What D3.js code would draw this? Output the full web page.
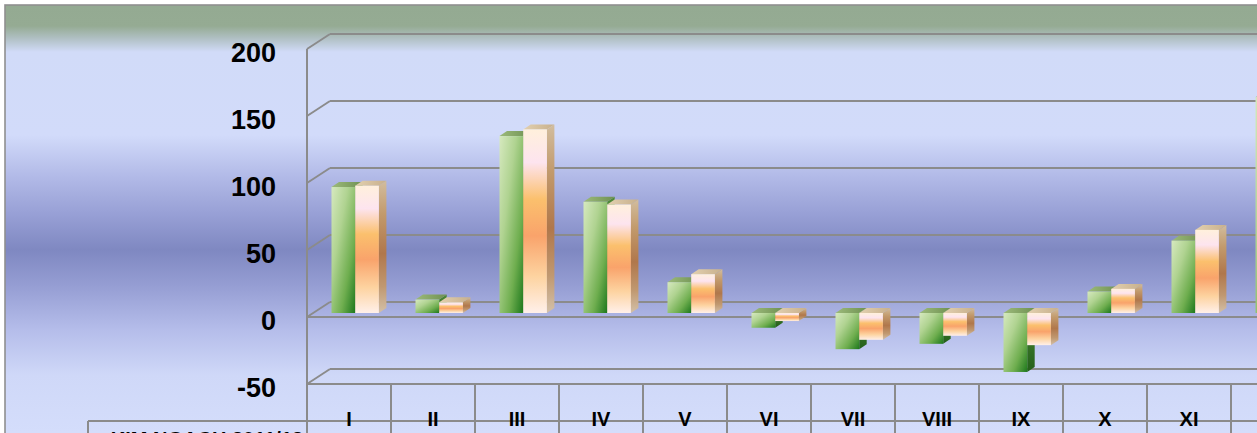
<!DOCTYPE html>
<html>
<head>
<meta charset="utf-8">
<script src="https://cdn.jsdelivr.net/npm/d3@7/dist/d3.min.js"></script>
<style>
  html, body { margin: 0; padding: 0; background: #ffffff; overflow: hidden; }
  svg { display: block; }
</style>
</head>
<body>
<svg id="chart" width="1257" height="433"></svg>
<script>
// Months (Roman numerals) and the two series
const categories = ["I", "II", "III", "IV", "V", "VI", "VII", "VIII", "IX", "X", "XI", "XII"];
const seriesGreen = [94, 10, 132, 83, 23, -11, -27, -23, -44, 16, 54, 161];
const seriesOrange = [95, 8, 137, 81, 29, -6, -20, -17, -24, 18, 62, 150];
const yTicks = [-50, 0, 50, 100, 150, 200];
const seriesLabel = "KIM NGẠCH 2011/12";

const W = 1257, H = 433;
const svg = d3.select("#chart");
const defs = svg.append("defs");

// --- oblique 3D geometry ---
const depthX = 23, depthY = 15;          // side wall depth (front -> back)
const barDX = 7.5, barDY = 5;            // bar depth
const barPlaneY = 11;                    // bar front plane below back wall

// back wall value scale
const yBack = d3.scaleLinear().domain([-50, 200]).range([369, 34]);
const yFront = v => yBack(v) + depthY;
const yBar = v => yBack(v) + barPlaneY;

// category bands on the front plane
const frontLeft = 307, bandW = 84;
const x = d3.scaleBand().domain(categories)
  .range([frontLeft, frontLeft + bandW * categories.length])
  .paddingInner(0).paddingOuter(0);
const barOffset = 24.5, barW = 23.7;

// --- background gradient (green band at top, blue bands below) ---
const bg = defs.append("linearGradient").attr("id", "bg")
  .attr("gradientUnits", "userSpaceOnUse")
  .attr("x1", 0).attr("y1", 5).attr("x2", 0).attr("y2", H);
[[5, "#94aa92"], [26, "#95ab93"], [38, "#afbfc2"], [52, "#d1dbf8"], [135, "#d2dbfa"],
 [175, "#b3bbe8"], [215, "#979fd5"], [250, "#7f88c1"], [285, "#959dd3"], [330, "#b5bdea"],
 [375, "#cfd8f8"], [433, "#d4ddfb"]].forEach(([yy, c]) => {
  bg.append("stop").attr("offset", (yy - 5) / (H - 5)).attr("stop-color", c);
});

svg.append("rect").attr("x", 5).attr("y", 5).attr("width", W).attr("height", H)
  .attr("fill", "url(#bg)").attr("stroke", "#8f8f8f").attr("stroke-width", 1.6);

// --- bar gradients ---
function grad(id, x2, y2, stops) {
  const g = defs.append("linearGradient").attr("id", id)
    .attr("x1", 0).attr("y1", 0).attr("x2", x2).attr("y2", y2);
  stops.forEach(([o, c]) => g.append("stop").attr("offset", o).attr("stop-color", c));
}
grad("gFront", 1, 1, [[0, "#d6e9bf"], [0.35, "#b0d391"], [0.7, "#6fae4f"], [1, "#1d781c"]]);
grad("gTop", 1, 0, [[0, "#9cba7a"], [1, "#6f9152"]]);
grad("gSide", 0, 1, [[0, "#4f8a38"], [1, "#24601a"]]);
grad("oFront", 0, 1, [[0, "#fff0dc"], [0.18, "#fde4ef"], [0.38, "#fbc06d"], [0.58, "#f9a36b"],
                      [0.8, "#fdd3a0"], [1, "#fff0ea"]]);
grad("oTop", 1, 0, [[0, "#e2d0b0"], [1, "#c8b08c"]]);
grad("oSide", 0, 1, [[0, "#d2bd9e"], [0.25, "#c29a6c"], [0.55, "#b0774b"], [0.8, "#c09870"], [1, "#d3c0a8"]]);

// --- walls and gridlines ---
const gridColor = "#8b8b8b";
const grid = svg.append("g").attr("stroke", gridColor).attr("stroke-width", 2).attr("fill", "none");

// back wall horizontal gridlines
grid.selectAll("line.back").data(yTicks).join("line").attr("class", "back")
  .attr("x1", frontLeft + depthX).attr("x2", W + 10)
  .attr("y1", d => yBack(d)).attr("y2", d => yBack(d));
// side wall diagonals
grid.selectAll("line.side").data(yTicks).join("line").attr("class", "side")
  .attr("x1", frontLeft).attr("y1", d => yFront(d))
  .attr("x2", frontLeft + depthX).attr("y2", d => yBack(d));
// side wall front edge (continues down as the table's left rule)
grid.append("line")
  .attr("x1", frontLeft).attr("x2", frontLeft)
  .attr("y1", yFront(200)).attr("y2", H + 5);
// front edge at zero and floor front edge
grid.selectAll("line.front").data([0, -50]).join("line").attr("class", "front")
  .attr("x1", frontLeft).attr("x2", W + 10)
  .attr("y1", d => yFront(d)).attr("y2", d => yFront(d));

// --- bars ---
const bars = svg.append("g");
const rows = categories.map((c, i) => ({ c, g: seriesGreen[i], o: seriesOrange[i] }));

function drawBar(g, x0, v, fills) {
  const yTop = yBar(Math.max(v, 0));
  const yBot = yBar(Math.min(v, 0));
  // right side face
  g.append("path").attr("fill", `url(#${fills[2]})`)
    .attr("d", `M${x0 + barW},${yTop} L${x0 + barW + barDX},${yTop - barDY} L${x0 + barW + barDX},${yBot - barDY} L${x0 + barW},${yBot} Z`);
  // top face
  g.append("path").attr("fill", `url(#${fills[1]})`)
    .attr("d", `M${x0},${yTop} L${x0 + barDX},${yTop - barDY} L${x0 + barW + barDX},${yTop - barDY} L${x0 + barW},${yTop} Z`);
  // front face
  g.append("rect").attr("x", x0).attr("y", yTop).attr("width", barW)
    .attr("height", Math.max(yBot - yTop, 0.5)).attr("fill", `url(#${fills[0]})`);
}

rows.forEach(r => {
  const g = bars.append("g");
  const x0 = x(r.c) + barOffset;
  drawBar(g, x0, r.g, ["gFront", "gTop", "gSide"]);
  drawBar(g, x0 + barW, r.o, ["oFront", "oTop", "oSide"]);
});

// --- value axis labels ---
const labelScale = d3.scaleLinear().domain(yBack.domain()).range(yBack.range().map(v => v + depthY + 4));
const yAxis = svg.append("g").attr("transform", "translate(276,0)")
  .call(d3.axisLeft(labelScale).tickValues(yTicks).tickSize(0).tickPadding(0).tickFormat(d => String(d)));
yAxis.select(".domain").remove();
yAxis.selectAll("text")
  .attr("font-family", "'Liberation Sans', Arial, sans-serif")
  .attr("font-weight", "bold").attr("font-size", 27).attr("fill", "#000");

// --- data table (category row) ---
const tableTop = yFront(-50);
const rowLine = 421;
const table = svg.append("g").attr("stroke", gridColor).attr("stroke-width", 2);
const bounds = categories.map(c => x(c)).concat([x.range()[1]]);
table.selectAll("line.col").data(bounds.slice(1)).join("line").attr("class", "col")
  .attr("x1", d => d).attr("x2", d => d).attr("y1", tableTop).attr("y2", H + 5);

const xAxis = svg.append("g").attr("transform", `translate(0,${rowLine - 2})`)
  .call(d3.axisBottom(x).tickSize(0).tickPadding(0));
xAxis.select(".domain").remove();
xAxis.selectAll("text")
  .attr("y", 0).attr("dy", "0.36em")
  .attr("font-family", "'Liberation Sans', Arial, sans-serif")
  .attr("font-weight", "bold").attr("font-size", 20).attr("fill", "#000");

// series row label (partly below the visible area)
svg.append("text").attr("x", 207).attr("y", 446).attr("text-anchor", "middle")
  .attr("font-family", "'Liberation Sans', Arial, sans-serif")
  .attr("font-weight", "bold").attr("font-size", 20).attr("fill", "#000")
  .text(seriesLabel);

table.append("line").attr("x1", 88).attr("x2", W + 10).attr("y1", rowLine).attr("y2", rowLine);
table.append("line").attr("x1", 88).attr("x2", 88).attr("y1", rowLine).attr("y2", H + 5);
</script>
</body>
</html>
